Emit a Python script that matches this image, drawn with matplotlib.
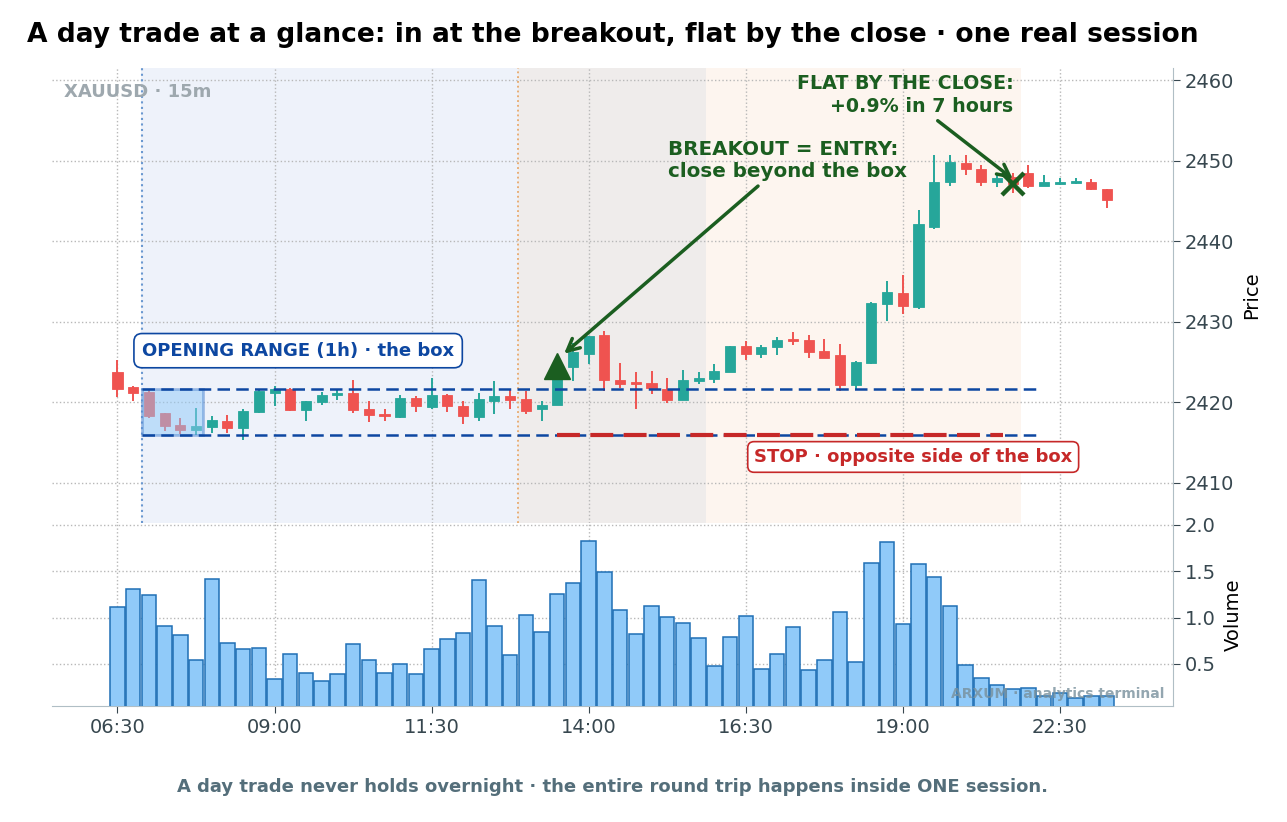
import numpy as np
import matplotlib.pyplot as plt
from matplotlib.patches import Rectangle

# 15m candles of one session
opens = [2423.8, 2421.9, 2421.3, 2418.6, 2417.2, 2416.5, 2416.9, 2417.7, 2416.8, 2418.8,
         2421.2, 2421.7, 2419.0, 2420.0, 2420.9, 2421.2, 2419.1, 2418.5, 2418.2, 2420.5,
         2419.4, 2420.9, 2419.5, 2418.2, 2420.1, 2420.8, 2420.35, 2419.2, 2419.7, 2424.4,
         2426.0, 2428.4, 2422.8, 2422.4, 2422.4, 2421.7, 2420.3, 2422.6, 2422.85, 2423.8,
         2427.0, 2425.96, 2426.8, 2427.8, 2427.75, 2426.3, 2425.9, 2422.1, 2424.9, 2432.2,
         2433.55, 2431.85, 2441.8, 2447.3, 2449.7, 2449.0, 2447.35, 2447.96, 2448.5, 2446.85,
         2447.1, 2447.2, 2447.4, 2446.5]
highs = [2425.3, 2422.0, 2421.7, 2418.7, 2418.0, 2419.3, 2418.3, 2418.4, 2419.1, 2421.6,
         2422.0, 2421.8, 2420.2, 2421.3, 2421.7, 2422.7, 2420.1, 2419.1, 2420.9, 2420.8,
         2423.05, 2421.0, 2420.1, 2421.1, 2422.6, 2421.5, 2421.4, 2420.1, 2423.1, 2427.4,
         2428.2, 2428.9, 2424.9, 2423.7, 2423.9, 2423.05, 2424.0, 2423.8, 2424.7, 2427.0,
         2427.6, 2427.1, 2428.1, 2428.7, 2428.3, 2427.8, 2427.2, 2425.1, 2432.4, 2435.1,
         2435.8, 2443.9, 2450.7, 2450.7, 2450.7, 2449.5, 2448.4, 2448.4, 2449.5, 2448.2,
         2447.8, 2447.9, 2447.7, 2446.5]
lows = [2420.6, 2420.1, 2418.0, 2416.4, 2416.1, 2415.9, 2416.2, 2416.2, 2415.3, 2418.6,
        2419.5, 2418.9, 2417.7, 2419.7, 2420.3, 2418.7, 2417.5, 2417.7, 2418.0, 2418.8,
        2419.2, 2418.8, 2417.3, 2417.7, 2418.5, 2419.1, 2418.5, 2417.7, 2419.6, 2422.6,
        2424.7, 2421.4, 2421.8, 2419.1, 2421.0, 2419.9, 2420.3, 2422.2, 2422.4, 2423.7,
        2425.3, 2425.5, 2425.8, 2427.1, 2425.55, 2425.47, 2421.4, 2421.6, 2424.8, 2430.1,
        2430.95, 2431.6, 2441.5, 2446.8, 2448.2, 2446.8, 2446.7, 2446.0, 2446.6, 2446.85,
        2447.0, 2447.1, 2446.4, 2444.1]
closes = [2421.7, 2421.2, 2418.3, 2417.0, 2416.5, 2417.0, 2417.75, 2416.8, 2418.9, 2421.4,
          2421.7, 2419.0, 2420.2, 2420.9, 2421.2, 2419.0, 2418.4, 2418.3, 2420.5, 2419.5,
          2420.9, 2419.5, 2418.3, 2420.4, 2420.8, 2420.3, 2418.9, 2419.7, 2423.05, 2426.2,
          2428.2, 2422.8, 2422.2, 2422.3, 2421.8, 2420.3, 2422.8, 2423.05, 2423.9, 2427.0,
          2426.0, 2426.88, 2427.75, 2427.6, 2426.2, 2425.55, 2422.1, 2425.05, 2432.3, 2433.7,
          2431.9, 2442.1, 2447.3, 2449.8, 2448.96, 2447.3, 2447.9, 2447.05, 2446.8, 2447.34,
          2447.34, 2447.47, 2446.47, 2445.06]
volume = [1.11, 1.31, 1.24, 0.91, 0.81, 0.54, 1.42, 0.73, 0.66, 0.67,
          0.34, 0.61, 0.40, 0.32, 0.39, 0.72, 0.54, 0.40, 0.50, 0.39,
          0.66, 0.77, 0.83, 1.41, 0.91, 0.60, 1.03, 0.84, 1.26, 1.37,
          1.83, 1.49, 1.08, 0.82, 1.13, 1.01, 0.94, 0.78, 0.48, 0.79,
          1.02, 0.45, 0.61, 0.90, 0.43, 0.54, 1.06, 0.52, 1.59, 1.81,
          0.93, 1.58, 1.44, 1.13, 0.49, 0.35, 0.27, 0.23, 0.24, 0.15,
          0.19, 0.13, 0.15, 0.15]
tick_pos = [0, 10, 20, 30, 40, 50, 60]
tick_labels = ['06:30', '09:00', '11:30', '14:00', '16:30', '19:00', '22:30']

or_first, or_last = 2, 5      # the 1h opening range = 4 candles
entry_i = 28
exit_i = 57

UP, DOWN = '#26a69a', '#ef5350'
GREEN, BLUE, RED = '#1b5e20', '#0d47a1', '#c62828'
TXT = '#37474f'
SPINE = '#b0bec5'

o = np.array(opens); h = np.array(highs); l = np.array(lows); c = np.array(closes)
x = np.arange(len(o))
or_high = h[or_first:or_last + 1].max()
or_low = l[or_first:or_last + 1].min()

fig = plt.figure(figsize=(12.87, 8.22), dpi=100)
gs = fig.add_gridspec(2, 1, height_ratios=[455, 183], hspace=0,
                      left=0.0404, right=0.9114, top=0.9173, bottom=0.1411)
ax = fig.add_subplot(gs[0])
axv = fig.add_subplot(gs[1], sharex=ax)

# session phases
ax.axvspan(or_first - 0.5, 25.5, color='#eef2fa', zorder=0, lw=0)
ax.axvspan(25.5, 37.5, color='#efeceb', zorder=0, lw=0)
ax.axvspan(37.5, exit_i + 0.5, color='#fdf5ef', zorder=0, lw=0)
ax.axvline(or_first - 0.45, color='#6a98d0', ls=':', lw=1.5, zorder=1)
ax.axvline(25.5, color='#e8a86a', ls=':', lw=1.3, zorder=1)

# candles
col = np.where(c >= o, UP, DOWN)
ax.vlines(x, l, h, colors=col, lw=1.4, zorder=3)
body = np.maximum(np.abs(c - o), 0.15)
ax.bar(x, body, bottom=np.minimum(o, c), width=0.64, color=col, edgecolor=col,
       lw=0.6, zorder=4)

# opening range box + levels
ax.add_patch(Rectangle((or_first - 0.45, or_low), (or_last - or_first) + 0.9,
                       or_high - or_low, facecolor='#90caf9', alpha=0.5,
                       edgecolor='#4f86d0', lw=2, zorder=5))
ax.hlines([or_high, or_low], or_first - 0.45, 58.8, colors=BLUE, lw=1.8,
          linestyles=[(0, (5, 2.5))], zorder=6)
ax.hlines(or_low, entry_i, exit_i - 0.6, colors=RED, lw=3,
          linestyles=[(0, (5.5, 2.5))], zorder=7)

ax.text(11.5, 2426.4, 'OPENING RANGE (1h) · the box', color=BLUE, fontsize=13,
        fontweight='bold', ha='center', va='center', zorder=8,
        bbox=dict(boxstyle='round,pad=0.45', fc='white', ec=BLUE, lw=1.2))
ax.text(50.66, 2413.2, 'STOP · opposite side of the box', color=RED, fontsize=13,
        fontweight='bold', ha='center', va='center', zorder=8,
        bbox=dict(boxstyle='round,pad=0.35', fc='white', ec=RED, lw=1.2))

# entry / exit
ax.plot(entry_i, c[entry_i] + 1.5, marker='^', ms=19, color=GREEN, zorder=9)
ax.plot(exit_i, c[exit_i], marker='x', ms=16, mew=3.2, color=GREEN, zorder=9)
ax.annotate('BREAKOUT = ENTRY:\nclose beyond the box', xy=(entry_i + 0.3, 2425.8),
            xytext=(35.05, 2450.0), ha='left', va='center', fontsize=14.3,
            fontweight='bold', color=GREEN, linespacing=1.25, zorder=10,
            arrowprops=dict(arrowstyle='->', color=GREEN, lw=2.5,
                            mutation_scale=22))
ax.annotate('FLAT BY THE CLOSE:\n+0.9% in 7 hours', xy=(exit_i + 0.15, 2447.5),
            xytext=(57.04, 2458.1), ha='right', va='center', fontsize=13.7,
            fontweight='bold', color=GREEN, linespacing=1.25, multialignment='right',
            zorder=10,
            arrowprops=dict(arrowstyle='->', color=GREEN, lw=2.5,
                            mutation_scale=22))

ax.text(0.0107, 0.947, 'XAUUSD · 15m', transform=ax.transAxes, color='#9ea8ae',
        fontsize=13, fontweight='bold', ha='left', va='center')

ax.set_ylim(2405, 2461.5)
ax.set_yticks([2410, 2420, 2430, 2440, 2450, 2460])
ax.yaxis.tick_right()
ax.yaxis.set_label_position('right')
ax.set_ylabel('Price', fontsize=14, labelpad=6)
ax.grid(True, ls=':', color='#b8b8b8', lw=1)
ax.set_axisbelow(True)
ax.tick_params(axis='x', bottom=False, labelbottom=False)
ax.tick_params(axis='y', labelsize=14, colors=TXT, length=5)
for s in ['left', 'top', 'bottom']:
    ax.spines[s].set_visible(False)
ax.spines['right'].set_color(SPINE)

# volume
axv.bar(x, volume, width=0.92, color='#90caf9', edgecolor='#1f6fb5', lw=1.1, zorder=3)
axv.set_ylim(0.047, 2.02)
axv.set_yticks([0.5, 1.0, 1.5, 2.0])
axv.yaxis.tick_right()
axv.yaxis.set_label_position('right')
axv.set_ylabel('Volume', fontsize=14, labelpad=6)
axv.grid(True, ls=':', color='#b8b8b8', lw=1)
axv.set_axisbelow(True)
axv.tick_params(axis='both', labelsize=14, colors=TXT, length=5)
axv.set_xticks(tick_pos)
axv.set_xticklabels(tick_labels)
for s in ['left', 'top']:
    axv.spines[s].set_visible(False)
for s in ['right', 'bottom']:
    axv.spines[s].set_color(SPINE)
axv.text(0.992, 0.066, 'ARXUM · analytics terminal', transform=axv.transAxes,
         color='#78909c', alpha=0.8, fontsize=10, fontweight='bold', ha='right',
         va='center', zorder=10)

ax.set_xlim(-4.17, 67.2)

fig.text(0.476, 1 - 35 / 822, 'A day trade at a glance: in at the breakout, flat by the close · one real session',
         fontsize=19.1, fontweight='bold', ha='center', va='center')
fig.text(0.476, 1 - 787 / 822,
         'A day trade never holds overnight · the entire round trip happens inside ONE session.',
         fontsize=13, fontweight='bold', color='#546e7a', ha='center', va='center')

fig.savefig('out.png', dpi=100)
